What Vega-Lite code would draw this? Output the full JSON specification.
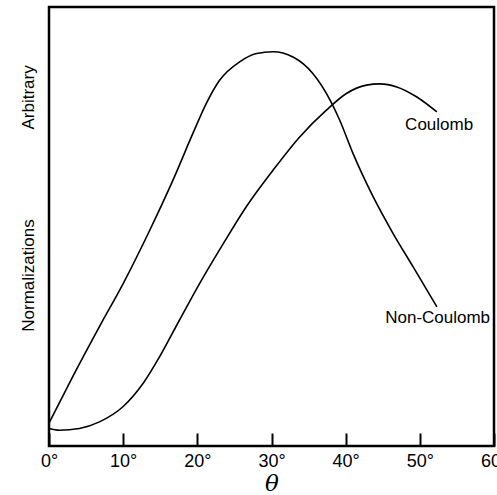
{
  "$schema": "https://vega.github.io/schema/vega-lite/v6.json",
  "autosize": "none",
  "width": 445,
  "height": 439,
  "padding": {"left": 49, "top": 7, "right": 3, "bottom": 49},
  "background": "white",
  "config": {
    "view": {"stroke": "black", "strokeWidth": 2.5},
    "font": "Liberation Sans"
  },
  "datasets": {
    "curves": [
      {"series": "Non-Coulomb", "theta": 0, "v": 5.2},
      {"series": "Non-Coulomb", "theta": 3.2, "v": 15.8},
      {"series": "Non-Coulomb", "theta": 6.8, "v": 27.2},
      {"series": "Non-Coulomb", "theta": 10, "v": 37.0},
      {"series": "Non-Coulomb", "theta": 13.6, "v": 49.2},
      {"series": "Non-Coulomb", "theta": 16.7, "v": 60.5},
      {"series": "Non-Coulomb", "theta": 19.4, "v": 71.2},
      {"series": "Non-Coulomb", "theta": 21.2, "v": 78.0},
      {"series": "Non-Coulomb", "theta": 23.0, "v": 83.3},
      {"series": "Non-Coulomb", "theta": 25.7, "v": 87.5},
      {"series": "Non-Coulomb", "theta": 28.0, "v": 89.4},
      {"series": "Non-Coulomb", "theta": 30.2, "v": 89.8},
      {"series": "Non-Coulomb", "theta": 32.9, "v": 88.6},
      {"series": "Non-Coulomb", "theta": 35.6, "v": 84.8},
      {"series": "Non-Coulomb", "theta": 37.9, "v": 78.8},
      {"series": "Non-Coulomb", "theta": 39.2, "v": 74.2},
      {"series": "Non-Coulomb", "theta": 41.0, "v": 66.6},
      {"series": "Non-Coulomb", "theta": 43.7, "v": 56.8},
      {"series": "Non-Coulomb", "theta": 46.4, "v": 48.4},
      {"series": "Non-Coulomb", "theta": 49.1, "v": 40.8},
      {"series": "Non-Coulomb", "theta": 52.3, "v": 31.7},
      {"series": "Coulomb", "theta": 0, "v": 4.0},
      {"series": "Coulomb", "theta": 1.4, "v": 3.6},
      {"series": "Coulomb", "theta": 4.1, "v": 4.0},
      {"series": "Coulomb", "theta": 6.8, "v": 5.5},
      {"series": "Coulomb", "theta": 10, "v": 9.0},
      {"series": "Coulomb", "theta": 12.7, "v": 14.3},
      {"series": "Coulomb", "theta": 14.9, "v": 20.3},
      {"series": "Coulomb", "theta": 17.6, "v": 28.7},
      {"series": "Coulomb", "theta": 20.3, "v": 37.0},
      {"series": "Coulomb", "theta": 23.5, "v": 46.1},
      {"series": "Coulomb", "theta": 26.6, "v": 54.5},
      {"series": "Coulomb", "theta": 30.2, "v": 62.8},
      {"series": "Coulomb", "theta": 33.8, "v": 70.4},
      {"series": "Coulomb", "theta": 37.4, "v": 76.5},
      {"series": "Coulomb", "theta": 40.1, "v": 80.3},
      {"series": "Coulomb", "theta": 42.8, "v": 82.2},
      {"series": "Coulomb", "theta": 44.6, "v": 82.5},
      {"series": "Coulomb", "theta": 46.9, "v": 81.8},
      {"series": "Coulomb", "theta": 49.6, "v": 79.5},
      {"series": "Coulomb", "theta": 52.3, "v": 76.1}
    ],
    "labels": [
      {"label": "Coulomb", "theta": 52.6, "v": 73.1},
      {"label": "Non-Coulomb", "theta": 52.4, "v": 29.1}
    ]
  },
  "layer": [
    {
      "data": {"name": "curves"},
      "mark": {"type": "line", "interpolate": "monotone", "color": "black", "strokeWidth": 1.6},
      "encoding": {
        "x": {
          "field": "theta", "type": "quantitative",
          "scale": {"domain": [0, 60], "nice": false, "zero": false},
          "axis": {
            "values": [0, 10, 20, 30, 40, 50, 60],
            "labelExpr": "datum.value + '°'",
            "domain": false, "grid": false,
            "tickSize": -13, "tickWidth": 2, "tickColor": "black",
            "labelFont": "Liberation Sans", "labelFontSize": 18, "labelColor": "black",
            "labelPadding": 19, "labelFlush": false, "labelOverlap": false,
            "title": "θ", "titleFont": "DejaVu Serif", "titleFontStyle": "italic",
            "titleFontWeight": "normal", "titleFontSize": 23, "titleColor": "black",
            "titlePadding": 2
          }
        },
        "y": {
          "field": "v", "type": "quantitative",
          "scale": {"domain": [0, 100], "nice": false},
          "axis": {
            "labels": false, "ticks": false, "domain": false, "grid": false,
            "title": "Normalizations\u00a0\u00a0\u00a0\u00a0\u00a0\u00a0\u00a0\u00a0\u00a0\u00a0\u00a0\u00a0\u00a0\u00a0\u00a0\u00a0\u00a0\u00a0\u00a0Arbitrary",
            "titleFont": "Liberation Sans", "titleFontSize": 17, "titleFontWeight": "normal",
            "titleColor": "black", "titlePadding": 12, "titleY": 191
          }
        },
        "detail": {"field": "series"}
      }
    },
    {
      "data": {"name": "labels"},
      "mark": {"type": "text", "font": "Liberation Sans", "fontSize": 17, "color": "black", "align": "center", "baseline": "middle"},
      "encoding": {
        "x": {"field": "theta", "type": "quantitative"},
        "y": {"field": "v", "type": "quantitative"},
        "text": {"field": "label"}
      }
    }
  ]
}
